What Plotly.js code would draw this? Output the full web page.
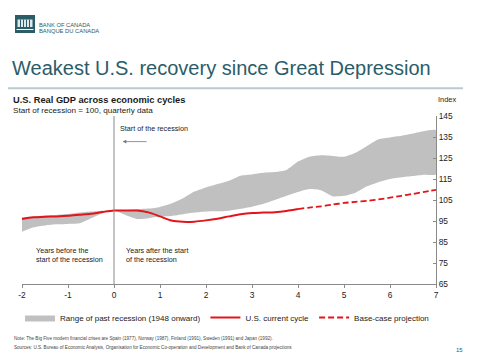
<!DOCTYPE html>
<html><head><meta charset="utf-8">
<script src="https://cdn.plot.ly/plotly-3.0.1.min.js"></script>
<style>html,body{margin:0;padding:0;background:#fff;}#chart{width:480px;height:360px;}</style>
</head><body><div id="chart"></div>
<script>
// ---- data (index, start of recession = 100; x in years from start of recession) ----
const quarters = [-2,-1.75,-1.5,-1.25,-1,-0.75,-0.5,-0.25,0,0.25,0.5,0.75,1,1.25,1.5,1.75,2,2.25,2.5,2.75,3,3.25,3.5,3.75,4,4.25,4.5,4.75,5,5.25,5.5,5.75,6,6.25,6.5,6.75,7];
const pastRangeUpper = [96.8,97.1,97.6,97.9,98.3,99.0,99.5,99.9,100.0,100.2,100.6,100.9,101.7,103.3,105.8,109.0,111.0,112.6,114.2,116.6,117.2,118.0,118.3,119.3,123.3,125.6,126.3,126.0,125.6,127.5,130.7,133.9,134.8,135.6,136.7,137.9,138.2];
const pastRangeLower = [89.9,92.0,92.9,93.4,93.6,93.9,96.3,98.7,100.0,97.9,96.0,96.3,97.1,97.4,98.2,99.0,99.5,99.6,99.9,100.8,101.8,103.2,105.0,107.0,108.8,110.2,109.6,106.8,107.0,108.5,111.5,113.5,115.0,115.8,116.4,117.0,117.3];
const currentX = [-2,-1.75,-1.5,-1.25,-1,-0.75,-0.5,-0.25,0,0.25,0.5,0.75,1,1.25,1.5,1.75,2,2.25,2.5,2.75,3,3.25,3.5,3.75,4];
const currentCycle = [96.0,96.8,97.0,97.2,97.5,98.0,98.5,99.3,100.0,100.0,100.0,99.1,97.2,95.2,94.6,94.7,95.3,96.1,97.2,98.2,98.8,99.0,99.2,99.8,100.7];
const projectionX = [4,4.25,4.5,4.75,5,5.25,5.5,5.75,6,6.25,6.5,6.75,7];
const projection = [100.7,101.4,102.0,102.8,103.6,104.1,104.6,105.3,106.1,107.0,107.9,108.9,109.8];
const xTickVals = [-2,-1,0,1,2,3,4,5,6,7];
const xTickLabels = ['-2','-1','0','1','2','3','4','5','6','7'];
const yTickVals = [65,75,85,95,105,115,125,135,145];
const seriesNames = ['Range of past recession (1948 onward)','U.S. current cycle','Base-case projection'];

// ---- layout helpers (pixel -> paper) ----
const L = 22, R = 436, T = 116, B = 284;
const px = v => (v - L) / (R - L);
const py = v => (B - v) / (B - T);
const FONT = 'Liberation Sans, Arial, sans-serif';
const TEAL = '#2b5d69';
const RED = '#e3141b';

const bandX = quarters.concat(quarters.slice().reverse());
const bandY = pastRangeUpper.concat(pastRangeLower.slice().reverse());

const traces = [
  {x: bandX, y: bandY, type: 'scatter', mode: 'lines', fill: 'toself', fillcolor: '#c0c0c0',
   line: {width: 0, color: '#c0c0c0', shape: 'spline', smoothing: 0.6}, name: seriesNames[0], hoverinfo: 'skip'},
  {x: currentX, y: currentCycle, type: 'scatter', mode: 'lines',
   line: {color: RED, width: 2, shape: 'spline', smoothing: 0.8}, name: seriesNames[1]},
  {x: projectionX, y: projection, type: 'scatter', mode: 'lines',
   line: {color: RED, width: 1.8, dash: '6px,3px', shape: 'spline', smoothing: 0.6}, name: seriesNames[2]}
];

const ann = (text, x, y, size, extra) => Object.assign({
  text: text, xref: 'paper', yref: 'paper', x: px(x), y: py(y), xanchor: 'left', yanchor: 'middle',
  showarrow: false, align: 'left', font: {family: FONT, size: size, color: '#1a1a1a'}
}, extra || {});

const layout = {
  width: 480, height: 360,
  margin: {l: L, r: 480 - R, t: T, b: 360 - B, pad: 0},
  paper_bgcolor: '#ffffff', plot_bgcolor: '#ffffff',
  font: {family: FONT, size: 8.4, color: '#222'},
  title: {text: 'Weakest U.S. recovery since Great Depression', xref: 'container', yref: 'container',
          x: 12 / 480, xanchor: 'left', y: 1 - 67.5 / 360, yanchor: 'middle',
          font: {family: FONT, size: 20, color: TEAL}},
  xaxis: {range: [-2, 7], tickvals: xTickVals, ticktext: xTickLabels, showgrid: false, zeroline: false,
          showline: true, linecolor: '#8a8a8a', linewidth: 1, ticks: 'outside', ticklen: 3, tickcolor: '#8a8a8a',
          tickfont: {family: FONT, size: 8.4, color: '#222'}},
  yaxis: {side: 'right', range: [65, 145], tickvals: yTickVals, showgrid: false, zeroline: false,
          showline: true, linecolor: '#8a8a8a', linewidth: 1, ticks: 'inside', ticklen: 3, tickcolor: '#8a8a8a',
          tickfont: {family: FONT, size: 8.4, color: '#222'}},
  yaxis2: {overlaying: 'y', side: 'left', range: [0, 7], tick0: 0, dtick: 1, showticklabels: false,
           showgrid: false, zeroline: false, showline: true, linecolor: '#8a8a8a', linewidth: 1,
           ticks: 'outside', ticklen: 3, tickcolor: '#8a8a8a'},
  showlegend: true,
  legend: {orientation: 'h', xref: 'container', x: 20 / 480, xanchor: 'left', yref: 'container', y: 1 - 303 / 360, yanchor: 'top',
           font: {family: FONT, size: 8.0, color: '#1a1a1a'}, bgcolor: 'rgba(0,0,0,0)', traceorder: 'normal'},
  shapes: [
    {type: 'line', xref: 'x', yref: 'paper', x0: 0, x1: 0, y0: 0, y1: 1, line: {color: '#8a8a8a', width: 1}},
    {type: 'line', xref: 'paper', yref: 'paper', x0: px(8), x1: px(463), y0: py(88.3), y1: py(88.3), line: {color: '#b9cbce', width: 2}},
    // logo
    {type: 'rect', xref: 'paper', yref: 'paper', x0: px(15), x1: px(35), y0: py(33), y1: py(15), fillcolor: TEAL, line: {width: 0}},
    {type: 'rect', xref: 'paper', yref: 'paper', x0: px(17.5), x1: px(32.5), y0: py(27), y1: py(19.5), fillcolor: '#dfe9ea', line: {width: 0}},
    {type: 'line', xref: 'paper', yref: 'paper', x0: px(20.5), x1: px(20.5), y0: py(27), y1: py(19.5), line: {color: TEAL, width: 1}},
    {type: 'line', xref: 'paper', yref: 'paper', x0: px(23.5), x1: px(23.5), y0: py(27), y1: py(19.5), line: {color: TEAL, width: 1}},
    {type: 'line', xref: 'paper', yref: 'paper', x0: px(26.5), x1: px(26.5), y0: py(27), y1: py(19.5), line: {color: TEAL, width: 1}},
    {type: 'line', xref: 'paper', yref: 'paper', x0: px(29.5), x1: px(29.5), y0: py(27), y1: py(19.5), line: {color: TEAL, width: 1}},
    {type: 'line', xref: 'paper', yref: 'paper', x0: px(16.5), x1: px(33.5), y0: py(29.5), y1: py(29.5), line: {color: '#ffffff', width: 1}}
  ],
  annotations: [
    ann('BANK OF CANADA', 37, 25, 5.8, {font: {family: FONT, size: 5.8, color: TEAL}}),
    ann('BANQUE DU CANADA', 37, 31, 5.8, {font: {family: FONT, size: 5.8, color: TEAL}}),
    ann('<b>U.S. Real GDP across economic cycles</b>', 11, 100, 9.3),
    ann('Start of recession = 100, quarterly data', 11, 110.8, 8.1),
    ann('Index', 436, 100, 7.4),
    ann('Start of the recession', 118, 128.7, 7.2),
    {text: '', xref: 'x', yref: 'y', x: 0.19, y: 132.8, axref: 'x', ayref: 'y', ax: 0.74, ay: 132.8,
     showarrow: true, arrowhead: 2, arrowsize: 0.9, arrowwidth: 0.8, arrowcolor: '#777'},
    ann('Years before the<br>start of the recession', 34, 255, 7.2),
    ann('Years after the start<br>of the recession', 124, 255, 7.2),
    ann('Note: The Big Five modern financial crises are Spain (1977), Norway (1987), Finland (1991), Sweden (1991) and Japan (1992).', 11.5, 338.3, 4.6, {font: {family: FONT, size: 4.6, color: '#444'}}),
    ann('Sources: U.S. Bureau of Economic Analysis, Organisation for Economic Co-operation and Development and Bank of Canada projections', 11.5, 347.3, 4.6, {font: {family: FONT, size: 4.6, color: '#444'}}),
    ann('15', 454, 350, 6, {font: {family: FONT, size: 6, color: TEAL}})
  ]
};

Plotly.newPlot('chart', traces, layout, {staticPlot: true, displayModeBar: false});
</script>
</body></html>
